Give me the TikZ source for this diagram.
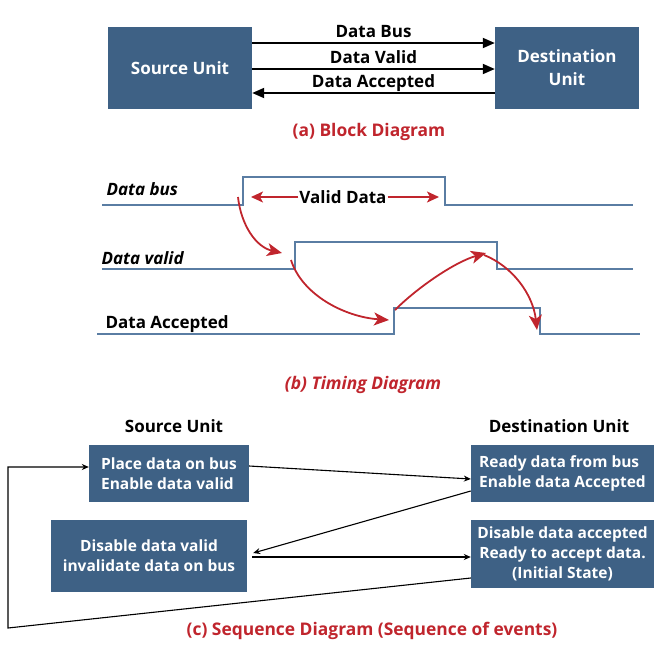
\documentclass[tikz,border=0pt]{standalone}
\usepackage{fontspec}
\setmainfont{Open Sans}
\usetikzlibrary{arrows.meta,calc}
\definecolor{boxblue}{HTML}{3E6185}
\definecolor{sigblue}{HTML}{5A7DA3}
\definecolor{capred}{HTML}{C0252D}
\begin{document}
\begin{tikzpicture}[x=1pt,y=-1pt,
  box/.style={fill=boxblue,text=white,font=\bfseries\fontsize{17}{23}\selectfont,inner sep=0pt,align=center},
  sbox/.style={fill=boxblue,text=white,font=\bfseries\fontsize{15.5}{20}\selectfont,inner sep=0pt},
  barrow/.style={line width=1.8pt,-{Triangle[length=12pt,width=10pt]}},
  lbl/.style={font=\bfseries\fontsize{17}{20}\selectfont},
  hdr/.style={font=\bfseries\fontsize{17}{20}\selectfont},
  sig/.style={sigblue,line width=1.8pt},
  redarr/.style={capred,line width=1.8pt,-{Stealth[length=15pt,width=13pt,inset=4pt]}},
  redsm/.style={capred,line width=1.6pt,-{Stealth[length=12pt,width=11pt,inset=3pt]}},
  captxt/.style={capred,font=\bfseries\fontsize{17.4}{20}\selectfont},
  sarr/.style={line width=1.1pt,-{Stealth[length=7pt,width=6pt]}}
]
\useasboundingbox (0,0) rectangle (672,659);

% (a) Block diagram
\node[box,minimum width=144pt,minimum height=82pt] (src) at (180,68) {Source Unit};
\node[box,minimum width=144pt,minimum height=82pt] (dst) at (567,68) {Destination\\Unit};
\draw[barrow] (src.east |- 0,43) -- node[lbl,midway,anchor=base,yshift=6pt] {Data Bus} (dst.west |- 0,43);
\draw[barrow] (src.east |- 0,69) -- node[lbl,midway,anchor=base,yshift=6pt] {Data Valid} (dst.west |- 0,69);
\draw[barrow] (dst.west |- 0,93) -- node[lbl,midway,anchor=base,yshift=6pt] {Data Accepted} (src.east |- 0,93);
\node[captxt] (capa) at (369,132) {(a) Block Diagram};

% (b) Timing diagram
\draw[sig] (102,205) -- (243,205) -- (243,177) -- (445,177) -- (445,205) -- (633,205);
\draw[sig] (102,269) -- (295,269) -- (295,242) -- (497,242) -- (497,269) -- (633,269);
\draw[sig] (97,334) -- (394,334) -- (394,308) -- (540,308) -- (540,334) -- (640,334);
\node[lbl,anchor=base west] (tbus) at (103,195) {\itshape Data bus};
\node[lbl,anchor=base west] (tvalid) at (98,264) {\itshape Data valid};
\node[lbl,anchor=base west] (tacc) at (102,328) {Data Accepted};
\node[lbl,inner sep=1pt] (vd) at (343,197) {Valid Data};
\coordinate (vdl) at (251,197);
\coordinate (vdr) at (439,197);
\draw[redsm] (vd.west) -- (vdl);
\draw[redsm] (vd.east) -- (vdr);
\coordinate (r1s) at (238,197); \coordinate (r1e) at (282,253);
\coordinate (r2s) at (291,260); \coordinate (r2e) at (389,320);
\coordinate (r3s) at (395,310); \coordinate (r3e) at (486,253);
\coordinate (r4s) at (484,255); \coordinate (r4e) at (537,330);
\draw[redarr] (r1s) .. controls (241,225) and (256,247) .. (r1e);
\draw[redarr] (r2s) .. controls (302,295) and (345,317) .. (r2e);
\draw[redarr] (r3s) .. controls (418,287) and (455,262) .. (r3e);
\draw[redarr] (r4s) .. controls (512,266) and (533,294) .. (r4e);
\node[captxt,font=\bfseries\itshape\fontsize{17.4}{20}\selectfont] (capb) at (363,385) {(b) Timing Diagram};

% (c) Sequence diagram
\node[hdr] (hs) at (174,426) {Source Unit};
\node[hdr] (hd) at (559,426) {Destination Unit};
\node[sbox,minimum width=160pt,minimum height=57pt,align=left] (b1) at (169,473.5) {Place data on bus\\Enable data valid};
\node[sbox,minimum width=183pt,minimum height=57pt,align=left] (b2) at (562.5,473.5) {Ready data from bus\\Enable data Accepted};
\node[sbox,minimum width=196pt,minimum height=72pt,align=center] (b3) at (149,556) {Disable data valid\\invalidate data on bus};
\node[sbox,minimum width=183pt,minimum height=68pt,align=center] (b4) at (562.5,554) {Disable data accepted\\Ready to accept data.\\(Initial State)};
\draw[sarr] (b1.east |- 0,466) -- (b2.west |- 0,479);
\draw[sarr] (b2.west |- 0,491) -- ($(b3.east |- 0,553)+(6,0)$);
\draw[sarr] ($(b3.east |- 0,557)+(5,0)$) -- (b4.west |- 0,557);
\coordinate (fb1) at (8,628);
\coordinate (fb2) at (8,467);
\draw[sarr] (b4.west |- 0,578) -- (fb1) -- (fb2) -- (b1.west |- 0,467);
\node[captxt] (capc) at (372,631) {(c) Sequence Diagram (Sequence of events)};
\end{tikzpicture}
\end{document}
